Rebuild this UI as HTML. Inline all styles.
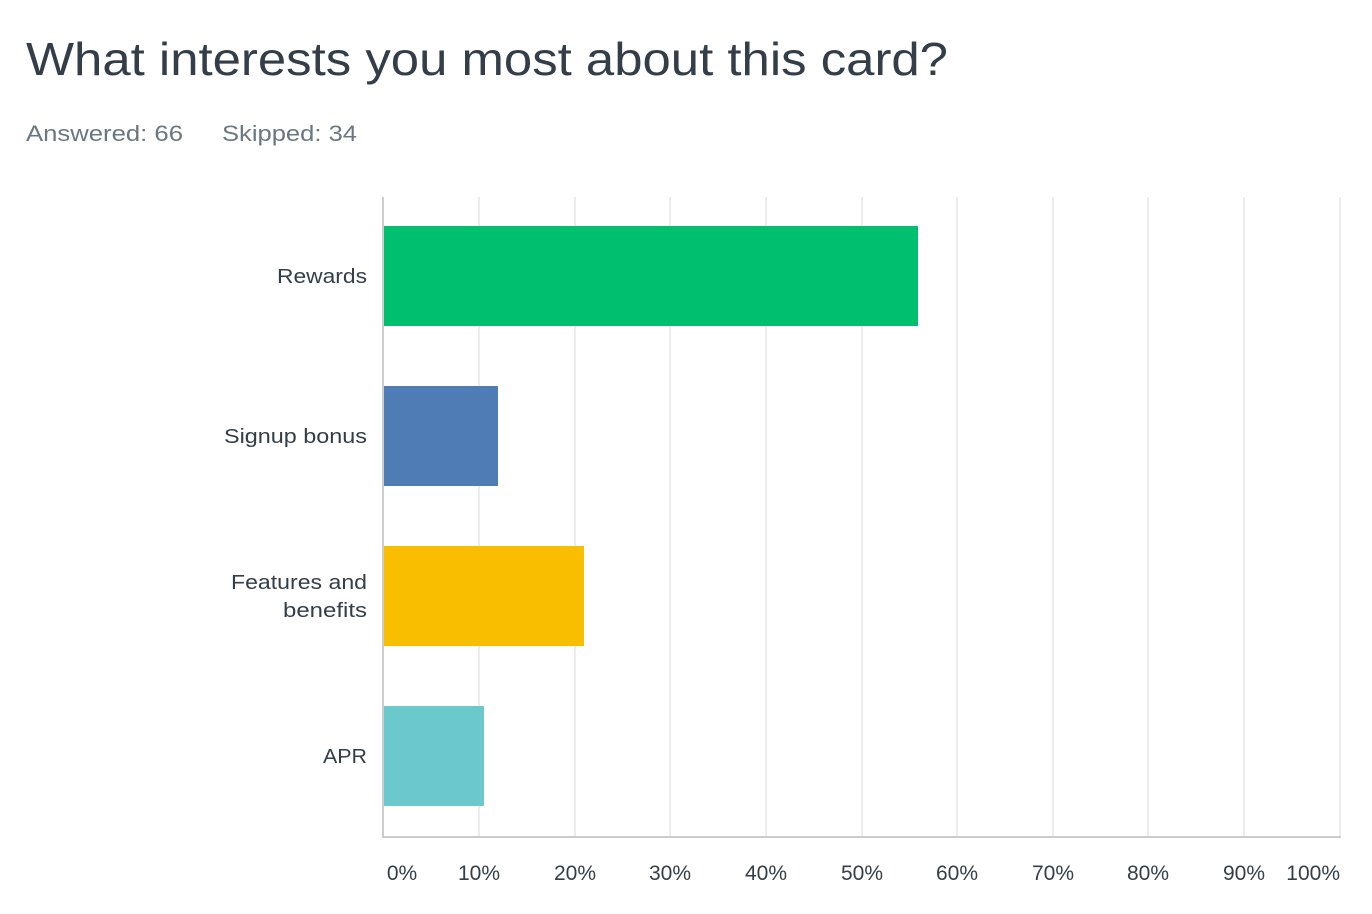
<!DOCTYPE html>
<html><head><meta charset="utf-8"><style>
html,body{margin:0;padding:0;background:#fff;}
svg{display:block;font-family:"Liberation Sans",sans-serif;}
</style></head><body>
<svg width="1372" height="914" viewBox="0 0 1372 914">
<text x="26" y="75" font-size="46" fill="#333e48" textLength="922" lengthAdjust="spacingAndGlyphs">What interests you most about this card?</text>
<text x="26" y="141" font-size="22" fill="#6b7780" textLength="157" lengthAdjust="spacingAndGlyphs">Answered: 66</text>
<text x="222" y="141" font-size="22" fill="#6b7780" textLength="135" lengthAdjust="spacingAndGlyphs">Skipped: 34</text>
<g stroke="#e6e6e6" stroke-width="1.5">
<line x1="479" y1="197" x2="479" y2="836"/>
<line x1="575" y1="197" x2="575" y2="836"/>
<line x1="670" y1="197" x2="670" y2="836"/>
<line x1="766" y1="197" x2="766" y2="836"/>
<line x1="862" y1="197" x2="862" y2="836"/>
<line x1="957" y1="197" x2="957" y2="836"/>
<line x1="1053" y1="197" x2="1053" y2="836"/>
<line x1="1148" y1="197" x2="1148" y2="836"/>
<line x1="1244" y1="197" x2="1244" y2="836"/>
<line x1="1340" y1="197" x2="1340" y2="836"/>
</g>
<rect x="384" y="226" width="534" height="100" fill="#00bf6f"/>
<rect x="384" y="386" width="114" height="100" fill="#507cb6"/>
<rect x="384" y="546" width="200" height="100" fill="#f9be00"/>
<rect x="384" y="706" width="100" height="100" fill="#6bc8cd"/>
<line x1="383" y1="197" x2="383" y2="837" stroke="#ccc" stroke-width="2"/>
<line x1="382" y1="837" x2="1341" y2="837" stroke="#ccc" stroke-width="2"/>
<g font-size="20" fill="#333e48" lengthAdjust="spacingAndGlyphs">
<text x="277" y="283" textLength="90" lengthAdjust="spacingAndGlyphs">Rewards</text>
<text x="224" y="443" textLength="143" lengthAdjust="spacingAndGlyphs">Signup bonus</text>
<text x="231" y="589" textLength="136" lengthAdjust="spacingAndGlyphs">Features and</text>
<text x="283" y="617" textLength="84" lengthAdjust="spacingAndGlyphs">benefits</text>
<text x="323" y="763" textLength="44" lengthAdjust="spacingAndGlyphs">APR</text>
</g>
<g font-size="21" fill="#333e48" text-anchor="middle">
<text x="402" y="880">0%</text>
<text x="479" y="880">10%</text>
<text x="575" y="880">20%</text>
<text x="670" y="880">30%</text>
<text x="766" y="880">40%</text>
<text x="862" y="880">50%</text>
<text x="957" y="880">60%</text>
<text x="1053" y="880">70%</text>
<text x="1148" y="880">80%</text>
<text x="1244" y="880">90%</text>
<text x="1340" y="880" text-anchor="end">100%</text>
</g>
</svg>
</body></html>
